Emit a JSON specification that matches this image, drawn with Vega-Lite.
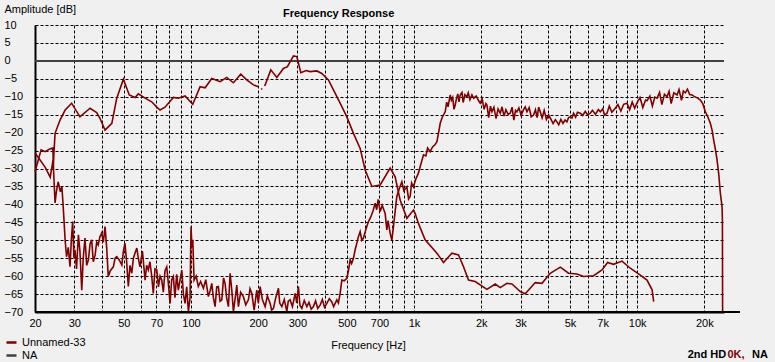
{
  "$schema": "https://vega.github.io/schema/vega-lite/v6.json",
  "width": 689,
  "height": 287,
  "autosize": {"type": "none"},
  "padding": {"left": 35, "top": 25, "right": 51, "bottom": 50},
  "background": "#f0f0f0",
  "config": {"view": {"stroke": null}, "font": "Liberation Sans", "axisY": {"labelOverlap": false, "tickCount": 20}},
  "title": {"text": "Frequency Response", "anchor": "start", "frame": "group", "dx": 248, "fontSize": 11, "fontWeight": "bold", "font": "Liberation Sans", "offset": -16, "color": "#000"},
  "data": {"values": [{}]},
  "datasets": {
    "woofer": [
      {"f":20,"db":-30.9},{"f":21.3,"db":-24.8},{"f":22.2,"db":-25.3},{"f":23.4,"db":-24.5},{"f":24.0,"db":-24.3},{"f":24.1,"db":-25.8},{"f":24.15,"db":-30},{"f":24.3,"db":-26},{"f":24.6,"db":-20.2},{"f":25.9,"db":-16.5},{"f":27.3,"db":-13.7},{"f":29.2,"db":-11.8},{"f":31.8,"db":-15.6},{"f":35.3,"db":-13.2},{"f":37.8,"db":-14.4},{"f":39.1,"db":-16},{"f":41.2,"db":-19.3},{"f":44.2,"db":-17.4},{"f":46.5,"db":-10.4},{"f":49.8,"db":-5.1},{"f":52.9,"db":-9.5},{"f":56.2,"db":-10.2},{"f":58.1,"db":-9.2},{"f":62.3,"db":-10.4},{"f":66.7,"db":-11.4},{"f":70.3,"db":-12.9},{"f":72.7,"db":-13.7},{"f":76.5,"db":-12.9},{"f":83.4,"db":-10.2},{"f":87.8,"db":-10.4},{"f":94.1,"db":-9.8},{"f":101.9,"db":-12.1},{"f":109.9,"db":-7.2},{"f":115.7,"db":-7.5},{"f":124,"db":-4.9},{"f":135.1,"db":-5.8},{"f":144.7,"db":-4.6},{"f":155,"db":-6.1},{"f":167.2,"db":-3.7},{"f":177.9,"db":-5.3},{"f":190.5,"db":-6.7},{"f":200.6,"db":-7.2},{"f":203,"db":null},{"f":206.5,"db":-7.7},{"f":208.5,"db":-8.0},{"f":211,"db":null},{"f":214,"db":-7.0},{"f":215,"db":-6.7},{"f":228,"db":-2.5},{"f":242.6,"db":-4.6},{"f":259.7,"db":-2.1},{"f":270.7,"db":-1.6},{"f":288,"db":1.4},{"f":298.2,"db":1.2},{"f":310.8,"db":-3.3},{"f":328.3,"db":-2.7},{"f":342.1,"db":-3},{"f":366.6,"db":-2.8},{"f":386.1,"db":-3.5},{"f":413.3,"db":-5.3},{"f":435.2,"db":-8.1},{"f":466.3,"db":-11.8},{"f":499.7,"db":-15.6},{"f":535,"db":-20.2},{"f":573.3,"db":-24.4},{"f":603.7,"db":-30.4},{"f":646.9,"db":-35},{"f":704.7,"db":-34.6},{"f":781.3,"db":-29.9},{"f":822.7,"db":-32.3},{"f":866.3,"db":-38.8},{"f":928.4,"db":-43.9},{"f":993.8,"db":-41.6},{"f":1011,"db":-42.5},{"f":1046,"db":-45.3},{"f":1121,"db":-49.9},{"f":1266,"db":-53.6},{"f":1355,"db":-56.2},{"f":1478,"db":-53.6},{"f":1582,"db":-54.1},{"f":1666,"db":-57.4},{"f":1754,"db":-61.1},{"f":1879,"db":-61.5},{"f":2121,"db":-63.7},{"f":2311,"db":-62.2},{"f":2434,"db":-63.2},{"f":2607,"db":-62},{"f":2746,"db":-62.2},{"f":2992,"db":-64.3},{"f":3150,"db":-64.9},{"f":3493,"db":-61.8},{"f":3743,"db":-62},{"f":4078,"db":-59.2},{"f":4522,"db":-57.5},{"f":4926,"db":-59.2},{"f":5372,"db":-59.4},{"f":5751,"db":-60.1},{"f":6379,"db":-59.9},{"f":6956,"db":-58.3},{"f":7371,"db":-56.2},{"f":7840,"db":-56.7},{"f":8550,"db":-55.8},{"f":9316,"db":-57.8},{"f":10328,"db":-59.7},{"f":11070,"db":-61.1},{"f":11663,"db":-63.8},{"f":11857,"db":-67.1}
    ],
    "tweeter": [
      {"f":20,"db":-25.7},{"f":21,"db":-27.5},{"f":22.2,"db":-29.6},{"f":23.4,"db":-32.4},{"f":23.9,"db":-29},{"f":24.1,"db":-27.6},{"f":24.6,"db":-39.6},{"f":25.0,"db":-36},{"f":25.4,"db":-33.7},{"f":26.0,"db":-36.5},{"f":26.4,"db":-35},{"f":26.9,"db":-43},{"f":27.3,"db":-50},{"f":27.7,"db":-54.6},{"f":28.2,"db":-52},{"f":28.7,"db":-57.4},{"f":29.1,"db":-50},{"f":29.5,"db":-44.8},{"f":29.9,"db":-55},{"f":30.2,"db":-52.7},{"f":30.7,"db":-58},{"f":31.3,"db":-48.5},{"f":31.8,"db":-53},{"f":32.4,"db":-63.9},{"f":32.9,"db":-55},{"f":33.5,"db":-49.4},{"f":34.1,"db":-57},{"f":34.7,"db":-55.5},{"f":35.3,"db":-51},{"f":35.9,"db":-49.9},{"f":36.5,"db":-56},{"f":37.2,"db":-54.1},{"f":37.8,"db":-50.5},{"f":38.4,"db":-51.3},{"f":39.1,"db":-49},{"f":39.8,"db":-48},{"f":40.5,"db":-50.5},{"f":41.2,"db":-46.2},{"f":41.9,"db":-52},{"f":42.6,"db":-60.1},{"f":43.5,"db":-58.5},{"f":44.9,"db":-57.4},{"f":45.7,"db":-55},{"f":46.5,"db":-54.6},{"f":47.7,"db":-55.5},{"f":49,"db":-56.9},{"f":49.8,"db":-53},{"f":50.6,"db":-50.8},{"f":51.5,"db":-56},{"f":52.4,"db":-62.9},{"f":53.3,"db":-57},{"f":54.3,"db":-59.2},{"f":55.2,"db":-55},{"f":56.2,"db":-53.5},{"f":57.2,"db":-52.2},{"f":58.1,"db":-55},{"f":59.1,"db":-57.4},{"f":60.6,"db":-53},{"f":62.3,"db":-61.1},{"f":63.3,"db":-57},{"f":64.4,"db":-58.3},{"f":65.5,"db":-56},{"f":66.7,"db":-60},{"f":67.8,"db":-64.8},{"f":69,"db":-58},{"f":70.3,"db":-58.3},{"f":71.5,"db":-63},{"f":72.7,"db":-60},{"f":74,"db":-61.1},{"f":75.2,"db":-64.5},{"f":76.5,"db":-58.5},{"f":77.9,"db":-57.4},{"f":79.2,"db":-62},{"f":80.6,"db":-67.6},{"f":82,"db":-61},{"f":83.4,"db":-60.1},{"f":84.8,"db":-66},{"f":86.3,"db":-59.5},{"f":87.8,"db":-63.9},{"f":89.4,"db":-61},{"f":91,"db":-58.3},{"f":92.5,"db":-65},{"f":94.1,"db":-67.6},{"f":95.7,"db":-63},{"f":97.4,"db":-69.9},{"f":99.1,"db":-66},{"f":99.6,"db":-55},{"f":100.1,"db":-46.2},{"f":101,"db":-52},{"f":101.9,"db":-49.9},{"f":103.3,"db":-61.1},{"f":105.5,"db":-60},{"f":107.9,"db":-62.9},{"f":110.5,"db":-61.5},{"f":113.7,"db":-63.4},{"f":116.5,"db":-61},{"f":119.7,"db":-65.7},{"f":122,"db":-64},{"f":124,"db":-62},{"f":126,"db":-66},{"f":128.3,"db":-68.5},{"f":130.5,"db":-63},{"f":132.7,"db":-62.9},{"f":135,"db":-67},{"f":137.5,"db":-66.6},{"f":140,"db":-60.5},{"f":142.2,"db":-62},{"f":144.5,"db":-66},{"f":147.2,"db":-68.5},{"f":149.8,"db":-59.2},{"f":152.5,"db":-64},{"f":155,"db":-69.9},{"f":158,"db":-66},{"f":160.5,"db":-62.5},{"f":163.2,"db":-68.5},{"f":167,"db":-64.5},{"f":171.8,"db":-65.7},{"f":176,"db":-68},{"f":180.9,"db":-66.6},{"f":184,"db":-63.5},{"f":187.4,"db":-64.8},{"f":192,"db":-69.5},{"f":197.3,"db":-63.9},{"f":200.5,"db":-67.5},{"f":204.2,"db":-62.9},{"f":209,"db":-66.5},{"f":215,"db":-68.5},{"f":220,"db":-65.5},{"f":226.4,"db":-67.6},{"f":230,"db":-69.5},{"f":234.3,"db":-69},{"f":240,"db":-66},{"f":246.7,"db":-63.4},{"f":250,"db":-67.5},{"f":255.5,"db":-68.5},{"f":262,"db":-66.5},{"f":269,"db":-69.9},{"f":273,"db":-67},{"f":278.3,"db":-66.6},{"f":285,"db":-68.5},{"f":293.1,"db":-64.8},{"f":298,"db":-67.5},{"f":303.2,"db":-62.9},{"f":308,"db":-68.2},{"f":314,"db":-69},{"f":322,"db":-66.8},{"f":330.7,"db":-68.5},{"f":338,"db":-67.3},{"f":346,"db":-69.2},{"f":354,"db":-68.5},{"f":362,"db":-66.9},{"f":370,"db":-69},{"f":379.3,"db":-68.1},{"f":388,"db":-66.5},{"f":397,"db":-68.7},{"f":406.5,"db":-67.6},{"f":417,"db":-66.3},{"f":428,"db":-67.2},{"f":436,"db":-68.5},{"f":442.9,"db":-67.6},{"f":450.7,"db":-66.6},{"f":458,"db":-67.5},{"f":466.3,"db":-64.8},{"f":474.6,"db":-61.1},{"f":486,"db":-61.3},{"f":499.7,"db":-60.6},{"f":508,"db":-58.5},{"f":517.1,"db":-55.5},{"f":525,"db":-56.5},{"f":535,"db":-55},{"f":545,"db":-52.5},{"f":554.1,"db":-50.8},{"f":563,"db":-49},{"f":573.3,"db":-47.6},{"f":583,"db":-50},{"f":593.2,"db":-49.4},{"f":608,"db":-47},{"f":624.6,"db":-44.8},{"f":640,"db":-43.5},{"f":655,"db":-41.8},{"f":669.3,"db":-39.7},{"f":680,"db":-41.5},{"f":690,"db":-38.6},{"f":704.7,"db":-42},{"f":720,"db":-40.3},{"f":742,"db":-42.5},{"f":755.2,"db":-47.1},{"f":765,"db":-44.5},{"f":781.3,"db":-48},{"f":795,"db":-50},{"f":808.4,"db":-46.2},{"f":837.2,"db":-37.8},{"f":860,"db":-35.5},{"f":881.6,"db":-33.7},{"f":900,"db":-36.2},{"f":928.4,"db":-35.1},{"f":945,"db":-38.5},{"f":960.5,"db":-37.8},{"f":975,"db":-34},{"f":993.8,"db":-35.1},{"f":1020,"db":-32.8},{"f":1046,"db":-31.3},{"f":1065,"db":-29.5},{"f":1102,"db":-26.2},{"f":1130,"db":-26.5},{"f":1150,"db":-24.3},{"f":1181,"db":-25.3},{"f":1210,"db":-24},{"f":1240,"db":-23.4},{"f":1266,"db":-22.5},{"f":1290,"db":-19.8},{"f":1310,"db":-17.4},{"f":1340,"db":-15.6},{"f":1379,"db":-14.2},{"f":1400,"db":-11.5},{"f":1420,"db":-12.8},{"f":1452,"db":-9.5},{"f":1470,"db":-11},{"f":1490,"db":-10.2},{"f":1510,"db":-13.5},{"f":1529,"db":-12.3},{"f":1550,"db":-10.5},{"f":1570,"db":-9.2},{"f":1590,"db":-11.4},{"f":1610,"db":-9.5},{"f":1640,"db":-8.8},{"f":1660,"db":-11.6},{"f":1690,"db":-9.4},{"f":1725,"db":-10},{"f":1750,"db":-8.9},{"f":1780,"db":-10.8},{"f":1817,"db":-9.5},{"f":1850,"db":-10.4},{"f":1900,"db":-9.8},{"f":1950,"db":-11.2},{"f":1979,"db":-11.8},{"f":2020,"db":-10.6},{"f":2060,"db":-13.5},{"f":2100,"db":-11.9},{"f":2121,"db":-12.3},{"f":2160,"db":-15.8},{"f":2200,"db":-12.6},{"f":2234,"db":-14.2},{"f":2280,"db":-12.9},{"f":2330,"db":-16.1},{"f":2380,"db":-13.4},{"f":2434,"db":-14.6},{"f":2480,"db":-12.8},{"f":2530,"db":-15.4},{"f":2580,"db":-13.6},{"f":2640,"db":-14.9},{"f":2698,"db":-14.6},{"f":2750,"db":-12.9},{"f":2800,"db":-16.5},{"f":2850,"db":-13.8},{"f":2891,"db":-14.2},{"f":2950,"db":-13.1},{"f":3020,"db":-15.2},{"f":3100,"db":-13.5},{"f":3150,"db":-12.8},{"f":3206,"db":-14.2},{"f":3280,"db":-13},{"f":3350,"db":-15.6},{"f":3432,"db":-15.1},{"f":3500,"db":-13.6},{"f":3560,"db":-15.8},{"f":3620,"db":-12.9},{"f":3678,"db":-14.2},{"f":3750,"db":-15.9},{"f":3830,"db":-13.8},{"f":3920,"db":-16.3},{"f":4007,"db":-15.1},{"f":4100,"db":-16.2},{"f":4200,"db":-17.5},{"f":4300,"db":-16.4},{"f":4370,"db":-17},{"f":4450,"db":-17.8},{"f":4550,"db":-16.3},{"f":4650,"db":-17.4},{"f":4750,"db":-16.5},{"f":4845,"db":-17},{"f":4926,"db":-15.8},{"f":5013,"db":-15.6},{"f":5100,"db":-15.9},{"f":5187,"db":-14.6},{"f":5300,"db":-15.7},{"f":5400,"db":-14.3},{"f":5559,"db":-14.6},{"f":5700,"db":-15.2},{"f":5850,"db":-14.1},{"f":6000,"db":-15},{"f":6165,"db":-14.6},{"f":6300,"db":-13.8},{"f":6500,"db":-14.9},{"f":6700,"db":-13.6},{"f":6835,"db":-14.2},{"f":7000,"db":-13.4},{"f":7150,"db":-15.1},{"f":7325,"db":-14.6},{"f":7500,"db":-12.6},{"f":7700,"db":-14.3},{"f":7979,"db":-13.2},{"f":8200,"db":-12.2},{"f":8450,"db":-14},{"f":8700,"db":-12.1},{"f":9003,"db":-11.8},{"f":9250,"db":-13.6},{"f":9500,"db":-11.5},{"f":9750,"db":-13.2},{"f":9982,"db":-11.7},{"f":10300,"db":-10.2},{"f":10600,"db":-13},{"f":10900,"db":-10.9},{"f":11070,"db":-11.1},{"f":11400,"db":-9.8},{"f":11700,"db":-12.6},{"f":12000,"db":-10.1},{"f":12280,"db":-10.4},{"f":12600,"db":-8.8},{"f":12900,"db":-12.2},{"f":13250,"db":-9.3},{"f":13604,"db":-10},{"f":13900,"db":-8.5},{"f":14200,"db":-11.9},{"f":14600,"db":-8.9},{"f":15088,"db":-9.5},{"f":15400,"db":-8},{"f":15800,"db":-11},{"f":16100,"db":-8.4},{"f":16436,"db":-8.9},{"f":16800,"db":-7.9},{"f":17200,"db":-9.4},{"f":17618,"db":-9.5},{"f":18000,"db":-9.9},{"f":18600,"db":-10.3},{"f":19192,"db":-10.9},{"f":19700,"db":-12},{"f":20208,"db":-14.2},{"f":20700,"db":-15.5},{"f":21280,"db":-17.4},{"f":21700,"db":-19.5},{"f":22016,"db":-22},{"f":22400,"db":-24.5},{"f":22804,"db":-27.6},{"f":23200,"db":-31.5},{"f":23594,"db":-36.9},{"f":24012,"db":-40.6},{"f":24100,"db":-44.3},{"f":24150,"db":-70}
    ]
  },
  "layer": [
    {
      "mark": {"type": "rule", "color": "#404040", "strokeWidth": 2},
      "encoding": {
        "y": {
          "datum": 0, "type": "quantitative",
          "scale": {"domain": [-70, 10], "nice": false, "zero": false},
          "axis": {
            "values": [-70,-65,-60,-55,-50,-45,-40,-35,-30,-25,-20,-15,-10,-5,0,5,10],
            "tickCount": 20,
            "grid": true, "gridColor": "#000", "gridDash": [3, 2], "gridWidth": 1, "gridOpacity": 1,
            "ticks": false, "tickSize": 0,
            "domainColor": "#000", "domainWidth": 2,
            "labelFont": "Liberation Sans", "labelFontSize": 11, "labelColor": "#000",
            "labelAlign": "left", "labelBaseline": "middle", "labelPadding": 31, "labelOverlap": false, "labelBound": false,
            "title": "Amplitude [dB]", "titleFont": "Liberation Sans", "titleFontSize": 11, "titleFontWeight": "normal",
            "titleColor": "#000", "titleAngle": 0, "titleAlign": "left", "titleBaseline": "top", "titleX": -31, "titleY": -22
          }
        }
      }
    },
    {
      "data": {"name": "woofer"},
      "mark": {"type": "line", "strokeWidth": 1.6, "interpolate": "linear"},
      "encoding": {
        "x": {
          "field": "f", "type": "quantitative",
          "scale": {"type": "log", "domain": [20, 24500], "nice": false},
          "axis": {
            "values": [20,30,40,50,60,70,80,90,100,200,300,400,500,600,700,800,900,1000,2000,3000,4000,5000,6000,7000,8000,9000,10000,20000],
            "labelExpr": "indexof([20,30,50,70,100,200,300,500,700,1000,2000,3000,5000,7000,10000,20000], datum.value) >= 0 ? (datum.value >= 1000 ? (datum.value/1000) + 'k' : '' + datum.value) : ''",
            "grid": true, "gridColor": "#000", "gridDash": [3, 2], "gridWidth": 1, "gridOpacity": 1,
            "ticks": false, "tickSize": 0,
            "domainColor": "#000", "domainWidth": 2,
            "labelFont": "Liberation Sans", "labelFontSize": 11, "labelColor": "#000", "labelPadding": 5,
            "labelBaseline": "top", "labelFlush": false, "labelOverlap": false, "labelBound": false,
            "title": "Frequency [Hz]", "titleFont": "Liberation Sans", "titleFontSize": 11, "titleFontWeight": "normal",
            "titleColor": "#000", "titleX": 333, "titleY": 27, "titleAlign": "center", "titleBaseline": "top"
          }
        },
        "y": {
          "field": "db", "type": "quantitative",
          "scale": {"domain": [-70, 10], "nice": false, "zero": false},
          "axis": {
            "values": [-70,-65,-60,-55,-50,-45,-40,-35,-30,-25,-20,-15,-10,-5,0,5,10],
            "tickCount": 20,
            "grid": true, "gridColor": "#000", "gridDash": [3, 2], "gridWidth": 1, "gridOpacity": 1,
            "ticks": false, "tickSize": 0,
            "domainColor": "#000", "domainWidth": 2,
            "labelFont": "Liberation Sans", "labelFontSize": 11, "labelColor": "#000",
            "labelAlign": "left", "labelBaseline": "middle", "labelPadding": 31, "labelOverlap": false, "labelBound": false,
            "title": "Amplitude [dB]", "titleFont": "Liberation Sans", "titleFontSize": 11, "titleFontWeight": "normal",
            "titleColor": "#000", "titleAngle": 0, "titleAlign": "left", "titleBaseline": "top", "titleX": -31, "titleY": -22
          }
        },
        "color": {
          "datum": "Unnamed-33", "type": "nominal",
          "scale": {"domain": ["Unnamed-33", "NA"], "range": ["#800000", "#404040"]},
          "legend": {
            "orient": "none", "legendX": -30, "legendY": 311, "title": null,
            "symbolType": "stroke", "symbolSize": 100, "symbolStrokeWidth": 2.5,
            "labelFont": "Liberation Sans", "labelFontSize": 11, "labelColor": "#000",
            "labelOffset": 4, "rowPadding": 1, "padding": 0
          }
        }
      }
    },
    {
      "data": {"name": "tweeter"},
      "mark": {"type": "line", "strokeWidth": 1.6, "interpolate": "linear"},
      "encoding": {
        "x": {"field": "f", "type": "quantitative"},
        "y": {"field": "db", "type": "quantitative"},
        "color": {"datum": "Unnamed-33", "type": "nominal"}
      }
    },
    {
      "mark": {"type": "rule", "color": "#000", "strokeWidth": 2},
      "encoding": {"x": {"datum": 20, "type": "quantitative"}, "x2": {"datum": 28900}, "y": {"datum": -70, "type": "quantitative"}}
    },
    {
      "data": {"values": [{"t": "2nd HD"}]},
      "mark": {"type": "text", "align": "left", "baseline": "alphabetic", "font": "Liberation Sans", "fontSize": 11, "fontWeight": "bold", "color": "#000"},
      "encoding": {"x": {"datum": 16850, "type": "quantitative"}, "y": {"datum": -82.7, "type": "quantitative"}, "text": {"field": "t"}}
    },
    {
      "data": {"values": [{"t": "0K,"}]},
      "mark": {"type": "text", "align": "left", "baseline": "alphabetic", "font": "Liberation Sans", "fontSize": 11, "fontWeight": "bold", "color": "#800000"},
      "encoding": {"x": {"datum": 25400, "type": "quantitative"}, "y": {"datum": -82.7, "type": "quantitative"}, "text": {"field": "t"}}
    },
    {
      "data": {"values": [{"t": "NA"}]},
      "mark": {"type": "text", "align": "left", "baseline": "alphabetic", "font": "Liberation Sans", "fontSize": 11, "fontWeight": "bold", "color": "#000"},
      "encoding": {"x": {"datum": 32720, "type": "quantitative"}, "y": {"datum": -82.7, "type": "quantitative"}, "text": {"field": "t"}}
    }
  ]
}
